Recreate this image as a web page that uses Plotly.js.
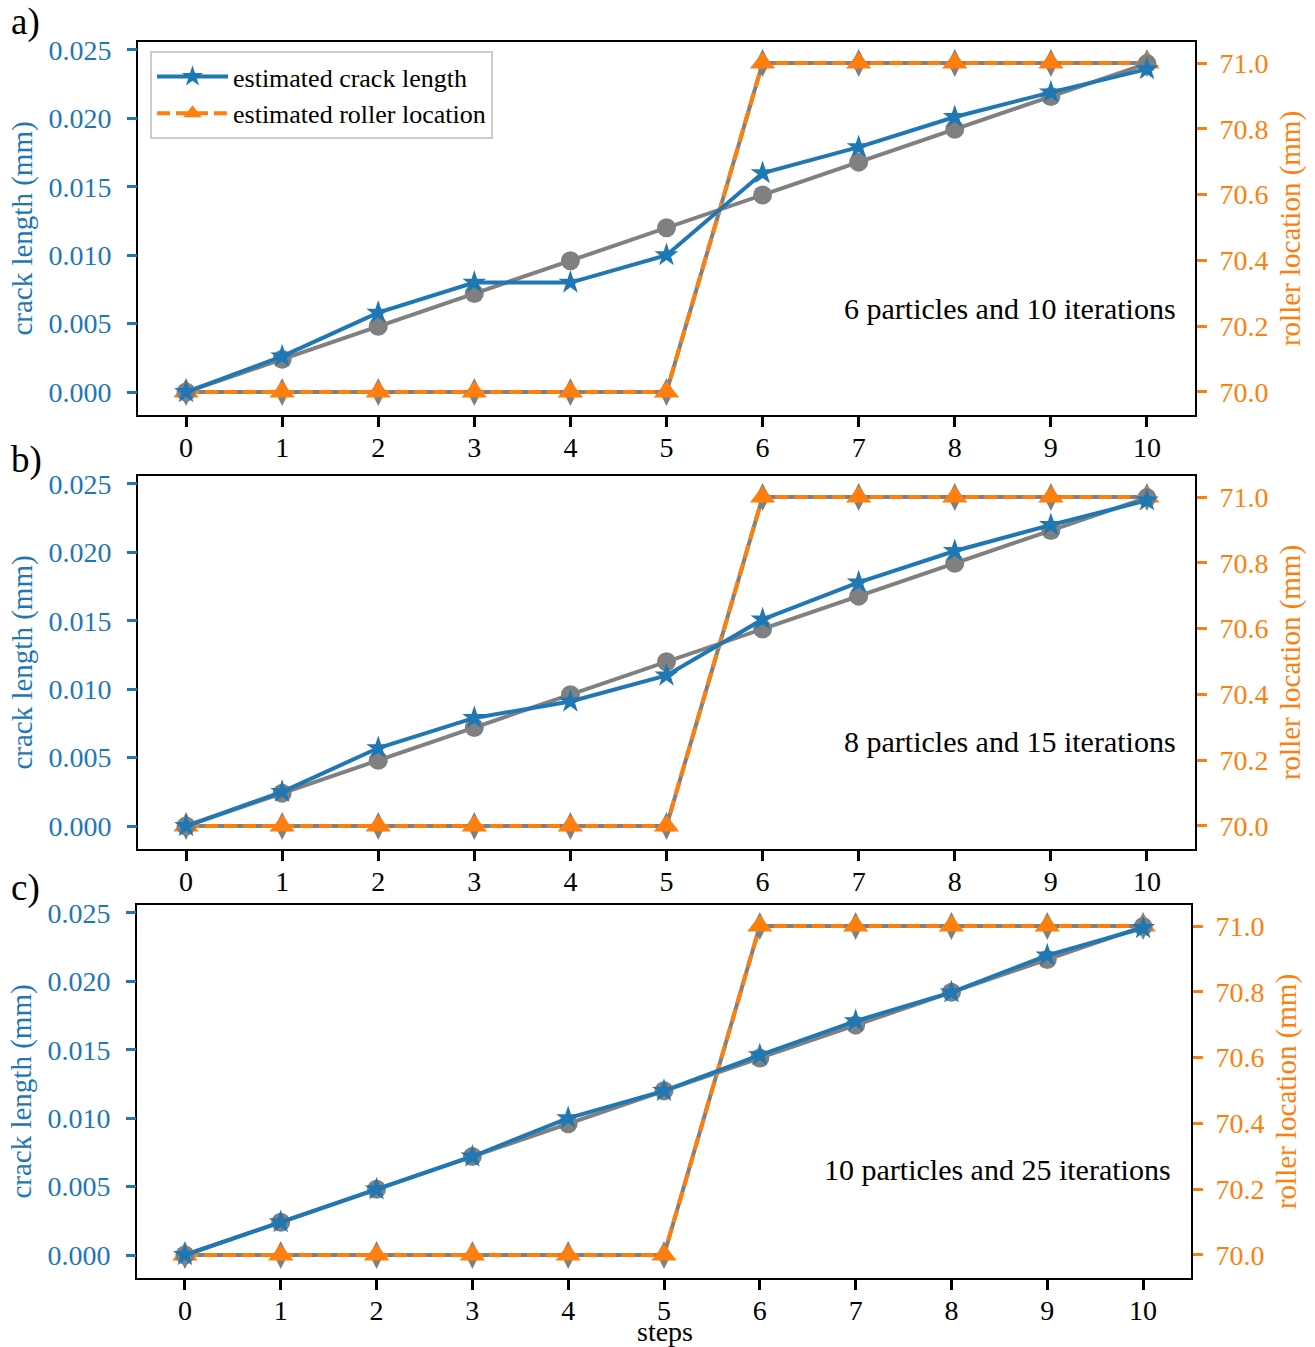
<!DOCTYPE html>
<html>
<head>
<meta charset="utf-8">
<script src="https://cdn.plot.ly/plotly-3.0.1.min.js"></script>
<style>html,body{margin:0;padding:0;background:#fff;}#chart{width:1315px;height:1347px;}</style>
</head>
<body>
<div id="chart"></div>
<script>
// ---- data ----
const steps = [0, 1, 2, 3, 4, 5, 6, 7, 8, 9, 10];
const xTickLabels = ["0", "1", "2", "3", "4", "5", "6", "7", "8", "9", "10"];
const trueCrack = [0, 0.0024, 0.0048, 0.0072, 0.0096, 0.012, 0.0144, 0.0168, 0.0192, 0.0216, 0.024];
const trueRoller = [70, 70, 70, 70, 70, 70, 71, 71, 71, 71, 71];
const estCrackA = [0, 0.0026, 0.0058, 0.0080, 0.0080, 0.0100, 0.0160, 0.0179, 0.0201, 0.0219, 0.0236];
const estCrackB = [0, 0.0025, 0.0057, 0.0079, 0.0091, 0.0110, 0.0151, 0.0178, 0.0201, 0.0220, 0.0238];
const estCrackC = [0, 0.0024, 0.0048, 0.0072, 0.0100, 0.0120, 0.0146, 0.0171, 0.0192, 0.0219, 0.0239];
const estRollerA = [70, 70, 70, 70, 70, 70, 71, 71, 71, 71, 71];
const estRollerB = [70, 70, 70, 70, 70, 70, 71, 71, 71, 71, 71];
const estRollerC = [70, 70, 70, 70, 70, 70, 71, 71, 71, 71, 71];
const panelLabels = ["a)", "b)", "c)"];
const panelNotes = ["6 particles and 10 iterations", "8 particles and 15 iterations", "10 particles and 25 iterations"];
const crackTicks = [0, 0.005, 0.010, 0.015, 0.020, 0.025];
const crackTickText = ["0.000", "0.005", "0.010", "0.015", "0.020", "0.025"];
const rollerTicks = [70.0, 70.2, 70.4, 70.6, 70.8, 71.0];
const rollerTickText = ["70.0", "70.2", "70.4", "70.6", "70.8", "71.0"];

// ---- style ----
const BLUE = "#1f77b4", ORANGE = "#ff7f0e", GRAY = "#808080";
const FONT = "Liberation Serif, Times New Roman, serif";
const TICKFS = 28, TITLEFS = 29, NOTEFS = 30, LEGFS = 26;
const LW = 4;
const W = 1315, H = 1347;

const estCrack = [estCrackA, estCrackB, estCrackC];
const estRoller = [estRollerA, estRollerB, estRollerC];

// pixel boxes of the three panels
const boxes = [
  {x0: 138, x1: 1195, y0: 42, y1: 415},
  {x0: 138, x1: 1195, y0: 476, y1: 849},
  {x0: 137, x1: 1191, y0: 905, y1: 1278}
];
const notePos = [{x: 1178, y: 308}, {x: 1178, y: 741}, {x: 1173, y: 1169}];
const labelPos = [{x: 9, y: 22}, {x: 9, y: 460}, {x: 9, y: 888}];

const traces = [];
const layout = {
  width: W, height: H,
  margin: {l: 0, r: 0, t: 0, b: 0},
  paper_bgcolor: "#fff", plot_bgcolor: "#fff",
  font: {family: FONT, size: LEGFS, color: "#000"},
  showlegend: true,
  legend: {
    x: 150 / W, y: 1 - 51 / H, xanchor: "left", yanchor: "top",
    bgcolor: "rgba(255,255,255,0.85)", bordercolor: "#cccccc", borderwidth: 2,
    font: {family: FONT, size: LEGFS, color: "#000"},
    tracegroupgap: 0, itemwidth: 71
  },
  annotations: [],
  shapes: []
};

for (let p = 0; p < 3; p++) {
  const b = boxes[p];
  const xn = p === 0 ? "x" : "x" + (p + 1);
  const rollerN = 2 * p + 1, crackN = 2 * p + 2;
  const yr = rollerN === 1 ? "y" : "y" + rollerN;
  const yc = "y" + crackN;
  const xKey = p === 0 ? "xaxis" : "xaxis" + (p + 1);
  const yrKey = rollerN === 1 ? "yaxis" : "yaxis" + rollerN;
  const ycKey = "yaxis" + crackN;
  const dom = [(H - b.y1) / H, (H - b.y0) / H];

  layout[xKey] = {
    domain: [b.x0 / W, b.x1 / W], anchor: yr,
    range: [-0.5, 10.5], tickmode: "array", tickvals: steps, ticktext: xTickLabels,
    ticks: "outside", ticklen: 10, tickwidth: 3, tickcolor: "#000",
    showline: true, mirror: true, linecolor: "#000", linewidth: 2,
    showgrid: false, zeroline: false,
    tickfont: {family: FONT, size: TICKFS, color: "#000"}, ticklabelstandoff: -4
  };
  layout[yrKey] = {
    domain: dom, anchor: xn, side: "right",
    range: [69.930, 71.064], tickmode: "array", tickvals: rollerTicks, ticktext: rollerTickText,
    ticks: "outside", ticklen: 10, tickwidth: 3, tickcolor: ORANGE,
    showline: true, mirror: true, linecolor: "#000", linewidth: 2,
    showgrid: false, zeroline: false,
    tickfont: {family: FONT, size: TICKFS, color: ORANGE}, ticklabelstandoff: 7,
    title: {text: "roller location (mm)", font: {family: FONT, size: TITLEFS, color: ORANGE}, standoff: 12}
  };
  layout[ycKey] = {
    domain: dom, anchor: xn, overlaying: yr, side: "left",
    range: [-0.00168, 0.02558], tickmode: "array", tickvals: crackTicks, ticktext: crackTickText,
    ticks: "outside", ticklen: 10, tickwidth: 3, tickcolor: BLUE,
    showline: false, showgrid: false, zeroline: false,
    tickfont: {family: FONT, size: TICKFS, color: BLUE}, ticklabelstandoff: 10,
    title: {text: "crack length (mm)", font: {family: FONT, size: TITLEFS, color: BLUE}, standoff: 7}
  };

  const show = p === 0;
  // true roller (gray, underneath)
  traces.push({
    x: steps, y: trueRoller, xaxis: xn, yaxis: yr, type: "scatter", mode: "lines+markers",
    line: {color: GRAY, width: LW}, marker: {symbol: "diamond-tall", size: 20, color: GRAY},
    showlegend: false, hoverinfo: "skip"
  });
  // estimated roller (orange dashed)
  traces.push({
    x: steps, y: estRoller[p], xaxis: xn, yaxis: yr, type: "scatter", mode: "lines+markers",
    name: "estimated roller location",
    line: {color: ORANGE, width: LW, dash: "13px,6px"},
    marker: {symbol: "triangle-up", size: 22, color: ORANGE},
    showlegend: show, legendrank: 2
  });
  // true crack (gray circles)
  traces.push({
    x: steps, y: trueCrack, xaxis: xn, yaxis: yc, type: "scatter", mode: "lines+markers",
    line: {color: GRAY, width: LW}, marker: {symbol: "circle", size: 19, color: GRAY},
    showlegend: false, hoverinfo: "skip"
  });
  // estimated crack (blue stars)
  traces.push({
    x: steps, y: estCrack[p], xaxis: xn, yaxis: yc, type: "scatter", mode: "lines+markers",
    name: "estimated crack length",
    line: {color: BLUE, width: LW}, marker: {symbol: "star", size: 18, color: BLUE},
    showlegend: show, legendrank: 1
  });

  layout.annotations.push({
    xref: "paper", yref: "paper", x: notePos[p].x / W, y: 1 - notePos[p].y / H,
    xanchor: "right", yanchor: "middle", showarrow: false,
    text: panelNotes[p], font: {family: FONT, size: NOTEFS, color: "#000"}
  });
  layout.annotations.push({
    xref: "paper", yref: "paper", x: labelPos[p].x / W, y: 1 - labelPos[p].y / H,
    xanchor: "left", yanchor: "middle", showarrow: false,
    text: panelLabels[p], font: {family: FONT, size: 37, color: "#000"}
  });
}

layout.annotations.push({
  xref: "paper", yref: "paper", x: 665 / W, y: 1 - 1331 / H,
  xanchor: "center", yanchor: "middle", showarrow: false,
  text: "steps", font: {family: FONT, size: 28, color: "#000"}
});

Plotly.newPlot("chart", traces, layout, {displayModeBar: false, staticPlot: true});
</script>
</body>
</html>
